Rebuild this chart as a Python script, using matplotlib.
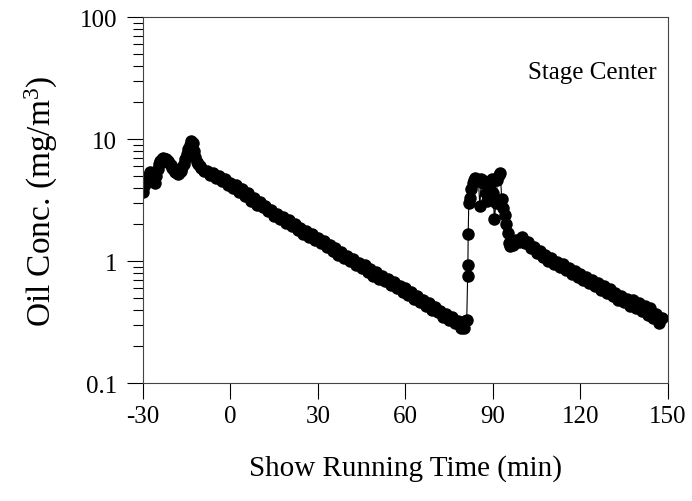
import numpy as np
import matplotlib.pyplot as plt
from matplotlib.ticker import LogLocator, NullFormatter

plt.rcParams['font.family'] = ['Liberation Serif', 'DejaVu Serif']
plt.rcParams['mathtext.default'] = 'regular'

# Show running time (min)
time_min = [
    -30, -29.5, -29, -28.5, -28, -27.5, -27, -26.5, -26, -25.5, -25, -24.5, -24,
    -23.5, -23, -22.5, -22, -21.5, -21, -20.5, -20, -19.5, -19, -18.5, -18, -17.5,
    -17, -16.5, -16, -15.5, -15, -14.5, -14, -13.5, -13, -12.5, -12, -11.5, -11,
    -10.5, -10, -9, -8, -7, -6, -5, -4, -3, -2, -1,
    0, 1, 2, 3, 4, 5, 6, 7, 8, 9, 10, 11, 12, 13, 14, 15, 16, 17, 18, 19,
    20, 21, 22, 23, 24, 25, 26, 27, 28, 29, 30, 31, 32, 33, 34, 35, 36, 37, 38, 39,
    40, 41, 42, 43, 44, 45, 46, 47, 48, 49, 50, 51, 52, 53, 54, 55, 56, 57, 58, 59,
    60, 61, 62, 63, 64, 65, 66, 67, 68, 69, 70, 71, 72, 73, 74, 75, 76, 77, 78, 79,
    79.5, 80, 80.5, 81, 81.3, 81.4, 81.5, 81.7, 82, 82.5, 83, 83.5, 84, 84.5, 85,
    85.5, 86, 86.5, 87, 87.5, 88, 88.5, 89, 89.5, 90, 90.5, 91, 91.5, 92, 92.5, 93,
    93.5, 94, 94.5, 95, 95.5, 96, 96.5, 97, 98, 99,
    100, 101, 102, 103, 104, 105, 106, 107, 108, 109, 110, 111, 112, 113, 114, 115,
    116, 117, 118, 119, 120, 121, 122, 123, 124, 125, 126, 127, 128, 129, 130, 131,
    132, 133, 134, 135, 136, 137, 138, 139, 140, 141, 142, 143, 144, 145, 146, 147, 148,
]

# Oil concentration (mg/m3), stage center
oil_conc = [
    3.7, 4.1, 4.4, 4.9, 5.1, 5.4, 5.2, 4.5, 4.4, 5.0, 5.7, 6.2, 6.6,
    6.9, 7.0, 6.8, 6.9, 6.6, 6.4, 6.1, 5.8, 5.6, 5.4, 5.3, 5.2, 5.3,
    5.5, 5.9, 6.3, 6.8, 7.6, 8.3, 9.0, 9.7, 9.2, 8.0, 7.1, 6.5, 6.2,
    6.0, 5.8, 5.5, 5.5, 5.1, 5.3, 4.8, 5.0, 4.5, 4.7, 4.2,
    4.4, 3.95, 4.2, 3.7, 3.9, 3.4, 3.6, 3.1, 3.3, 2.9, 3.05, 2.75, 2.85, 2.55, 2.6,
    2.35, 2.45, 2.2, 2.3, 2.05,
    2.15, 1.92, 2.0, 1.8, 1.88, 1.68, 1.76, 1.58, 1.66, 1.48, 1.55, 1.4, 1.46, 1.3,
    1.36, 1.22, 1.27, 1.13, 1.19, 1.06, 1.1, 1.0, 1.03, 0.92, 0.96, 0.87, 0.92, 0.81,
    0.86, 0.76, 0.81, 0.71, 0.76, 0.68, 0.71, 0.64, 0.67, 0.6, 0.63, 0.56,
    0.6, 0.53, 0.56, 0.49, 0.52, 0.46, 0.48, 0.43, 0.45, 0.4, 0.42, 0.38, 0.39,
    0.35, 0.37, 0.33, 0.35, 0.31, 0.32, 0.28,
    0.31, 0.28, 0.32, 0.33, 0.75, 0.93, 1.66, 3.0, 3.3, 3.9, 4.4, 4.6, 4.8, 4.7, 4.6,
    2.8, 4.7, 4.4, 4.5, 3.6, 3.1, 4.0, 4.3, 4.7, 3.6, 2.2, 3.0, 4.6, 5.1, 5.3, 3.2,
    2.7, 2.4, 2.0, 1.7, 1.4, 1.32, 1.45, 1.35, 1.5, 1.42,
    1.58, 1.4, 1.42, 1.27, 1.31, 1.17, 1.22, 1.08, 1.13, 1.01, 1.06, 0.95, 0.99, 0.89,
    0.94, 0.85,
    0.88, 0.79, 0.83, 0.74, 0.78, 0.7, 0.74, 0.66, 0.7, 0.62, 0.66, 0.58, 0.62, 0.55,
    0.59, 0.52,
    0.55, 0.48, 0.52, 0.46, 0.49, 0.43, 0.48, 0.41, 0.45, 0.39, 0.43, 0.36, 0.41, 0.34,
    0.37, 0.31, 0.34,
]

x_ticks = [-30, 0, 30, 60, 90, 120, 150]
y_ticks = [0.1, 1, 10, 100]
y_tick_labels = ['0.1', '1', '10', '100']

fig = plt.figure(figsize=(6.92, 5.02), dpi=100)
ax = fig.add_axes([0.2066, 0.235, 0.7587, 0.729])

ax.plot(time_min, oil_conc, color='black', linewidth=0.8,
        marker='o', markersize=9, markeredgewidth=0)

ax.set_yscale('log')
ax.set_xlim(-30, 150)
ax.set_ylim(0.1, 100)

ax.set_xticks(x_ticks)
ax.set_xticklabels([str(v) for v in x_ticks])
ax.set_yticks(y_ticks)
ax.set_yticklabels(y_tick_labels)
ax.yaxis.set_minor_locator(LogLocator(base=10, subs=np.arange(2, 10)))
ax.yaxis.set_minor_formatter(NullFormatter())

ax.tick_params(axis='both', which='major', direction='out', length=11.5,
               width=0.8, labelsize=18, colors='black')
ax.tick_params(axis='y', which='minor', direction='out', length=7, width=0.8)
ax.tick_params(axis='y', which='major', pad=7)
ax.tick_params(axis='x', which='major', pad=4)
ax.tick_params(top=False, right=False, which='both')

for s in ax.spines.values():
    s.set_linewidth(0.8)
    s.set_color('#444444')

ax.set_xlabel('Show Running Time (min)', fontsize=21, labelpad=20)
ax.set_ylabel('Oil Conc. (mg/m$^3$)', fontsize=24, labelpad=14)

ax.text(0.855, 0.85, 'Stage Center', transform=ax.transAxes,
        fontsize=18, ha='center', va='center')

fig.savefig('out.png', dpi=100)
